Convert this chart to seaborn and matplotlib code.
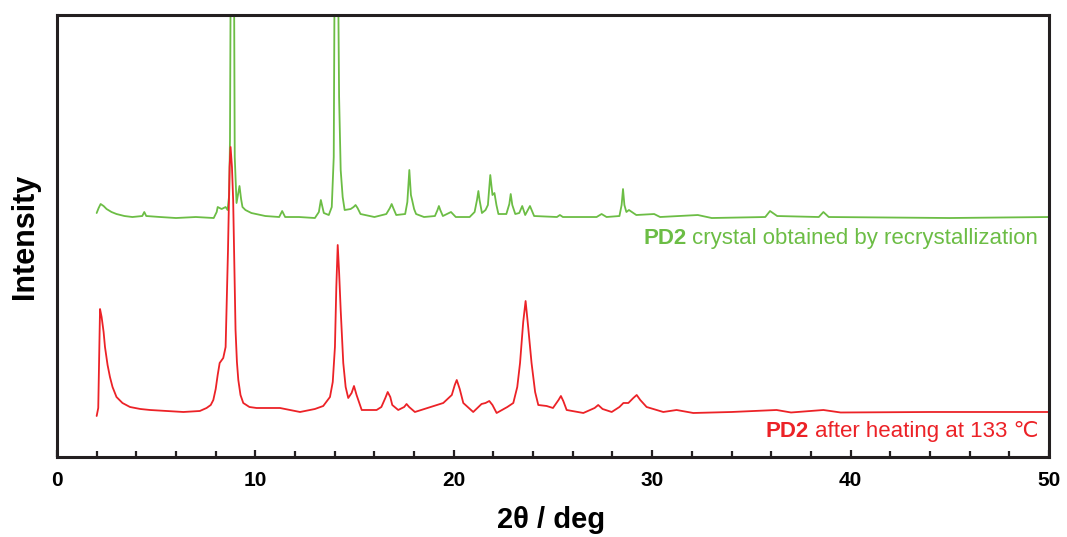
import matplotlib
matplotlib.use("Agg")
import matplotlib.pyplot as plt
from matplotlib.ticker import MultipleLocator
import pandas as pd
import seaborn as sns

# Powder XRD pattern of the recrystallized crystal (2-theta in deg, intensity in a.u.)
crystal_2theta = [2.0, 2.1, 2.2, 2.35, 2.5, 2.75, 3.0, 3.4, 3.8, 4.3, 4.4, 4.5, 5.2, 6.0,
                  7.0, 7.9, 8.05, 8.1, 8.2, 8.3, 8.4, 8.5, 8.6, 8.68, 8.72, 8.78, 8.84,
                  8.9, 8.96, 9.05, 9.12, 9.2, 9.28, 9.35, 9.5, 9.8, 10.5, 11.2, 11.35, 11.5,
                  12.2, 13.0, 13.2, 13.3, 13.38, 13.45, 13.7, 13.85, 13.95, 14.02, 14.1,
                  14.17, 14.22, 14.3, 14.4, 14.5, 14.8, 14.95, 15.05, 15.15, 15.3, 16.0,
                  16.6, 16.78, 16.87, 16.95, 17.1, 17.55, 17.66, 17.76, 17.84, 17.9, 18.0,
                  18.1, 18.5, 19.05, 19.18, 19.25, 19.32, 19.45, 19.86, 20.1, 20.8, 21.05,
                  21.17, 21.24, 21.3, 21.42, 21.6, 21.72, 21.84, 21.95, 22.05, 22.15, 22.25,
                  22.65, 22.8, 22.87, 22.95, 23.1, 23.3, 23.45, 23.6, 23.84, 24.05, 25.2,
                  25.35, 25.5, 27.2, 27.45, 27.7, 28.35, 28.46, 28.53, 28.6, 28.7, 28.83,
                  29.2, 30.1, 30.4, 32.3, 33.0, 35.7, 35.94, 36.3, 38.4, 38.63, 38.9, 45.0,
                  50.0]
crystal_int = [244, 249, 253, 251, 248, 245, 243, 241, 240, 241, 245, 241, 240, 239,
               240, 239, 245, 250, 249, 248, 249, 250, 247, 262, 317, 600, 620,
               600, 300, 254, 262, 271, 258, 250, 247, 244, 241, 240, 246, 240,
               240, 239, 245, 257, 250, 244, 242, 250, 300, 600, 620,
               480, 360, 287, 260, 247, 248, 250, 252, 249, 243, 240,
               243, 249, 253, 249, 242, 243, 255, 287, 262, 257, 248,
               243, 240, 241, 247, 251, 247, 241, 245, 240, 240, 245,
               257, 266, 257, 244, 247, 252, 282, 262, 264, 252, 243,
               243, 253, 263, 252, 243, 244, 251, 242, 251, 241, 240,
               242, 240, 240, 243, 240, 241, 252, 268, 252, 245, 247,
               242, 243, 240, 242, 239, 240, 246, 241, 240, 245, 240, 239,
               240]

# Pattern after heating at 133 degC
heated_2theta = [2.0, 2.08, 2.17, 2.25, 2.35, 2.42, 2.55, 2.67, 2.8, 3.0, 3.3, 3.68, 4.2,
                 4.69, 6.37, 7.2, 7.54, 7.75, 7.88, 8.0, 8.1, 8.2, 8.38, 8.5, 8.62, 8.7,
                 8.75, 8.82, 8.88, 9.0, 9.07, 9.14, 9.25, 9.39, 9.7, 10.06, 11.24, 12.25,
                 13.0, 13.42, 13.76, 13.9, 14.01, 14.08, 14.15, 14.22, 14.3, 14.43, 14.55,
                 14.68, 14.85, 14.97, 15.1, 15.36, 16.11, 16.35, 16.55, 16.67, 16.8, 16.9,
                 17.2, 17.5, 17.62, 17.75, 18.04, 19.47, 19.9, 20.05, 20.15, 20.3, 20.48,
                 20.98, 21.4, 21.6, 21.79, 21.95, 22.16, 22.7, 23.0, 23.2, 23.34, 23.5,
                 23.62, 23.75, 23.92, 24.1, 24.26, 24.68, 25.0, 25.28, 25.4, 25.52, 25.69,
                 26.53, 27.1, 27.28, 27.5, 27.96, 28.35, 28.55, 28.8, 29.05, 29.22, 29.4,
                 29.72, 30.56, 31.23, 32.07, 34.0, 36.27, 37.0, 38.63, 39.5, 44.0, 50.0]
heated_int = [41, 49, 148, 140, 125, 110, 92, 80, 70, 60, 54, 50, 48,
              47, 45, 46, 49, 52, 57, 68, 82, 94, 99, 110, 207, 290,
              310, 290, 257, 127, 95, 77, 62, 54, 50, 49, 49, 45,
              48, 51, 60, 75, 110, 170, 212, 185, 147, 94, 70,
              59, 64, 71, 62, 47, 47, 50, 59, 65, 60, 52,
              47, 50, 53, 50, 45, 54, 62, 72, 77, 68, 54,
              45, 53, 54, 56, 52, 44, 50, 54, 70, 94, 135,
              156, 130, 94, 65, 52, 51, 49, 57, 61, 56, 47,
              44, 49, 52, 48, 45, 50, 54, 54, 59, 62, 57,
              50, 45, 47, 44, 45, 47, 44.5, 47, 44.5, 45, 45]

crystal_label = "crystal obtained by recrystallization"
heated_label = "after heating at 133 \u2103"
sample_name = "PD2"

GREEN = "#6cbd45"
RED = "#ec2227"
INK = "#231f20"

sns.set_theme(style="white")
plt.rcParams["font.family"] = ["Liberation Sans", "DejaVu Sans"]

df = pd.concat([
    pd.DataFrame({"two_theta": crystal_2theta, "intensity": crystal_int, "sample": "crystal"}),
    pd.DataFrame({"two_theta": heated_2theta, "intensity": heated_int, "sample": "heated"}),
])

fig = plt.figure(figsize=(10.67, 5.37), dpi=100)
ax = fig.add_axes([0.0534, 0.149, 0.9297, 0.823])

sns.lineplot(data=df, x="two_theta", y="intensity", hue="sample",
             palette={"crystal": GREEN, "heated": RED}, estimator=None,
             sort=False, linewidth=1.3, legend=False, ax=ax)

ax.set_xlim(0, 50)
ax.set_ylim(0, 442)
ax.xaxis.set_major_locator(MultipleLocator(10))
ax.xaxis.set_minor_locator(MultipleLocator(2))
ax.set_yticks([])
ax.tick_params(axis="x", which="both", direction="in", color=INK, width=1.6,
               labelsize=15, pad=10, bottom=True, top=False, labelcolor="black")
ax.tick_params(axis="x", which="major", length=5)
ax.tick_params(axis="x", which="minor", length=4)
for lab in ax.get_xticklabels():
    lab.set_fontweight("bold")
for sp in ax.spines.values():
    sp.set_color(INK)
    sp.set_linewidth(2.2)

ax.set_xlabel("2\u03b8 / deg", fontsize=21, fontweight="bold", color="black")
ax.xaxis.set_label_coords(0.498, -0.112)
ax.xaxis.label.set_va("top")
ax.set_ylabel("Intensity", fontsize=22, fontweight="bold", color="black")
ax.yaxis.set_label_coords(-0.017, 0.5)

# Sample annotations: bold sample name followed by a regular description
for desc, color, y in [(crystal_label, GREEN, 219), (heated_label, RED, 25)]:
    t = ax.text(49.45, y, desc, color=color, fontsize=16, ha="right", va="center")
    ax.annotate(sample_name, xy=(0, 0.5), xycoords=t, xytext=(-4, 0),
                textcoords="offset points", ha="right", va="center",
                color=color, fontsize=16, fontweight="bold")

fig.savefig("out.png", dpi=100)
